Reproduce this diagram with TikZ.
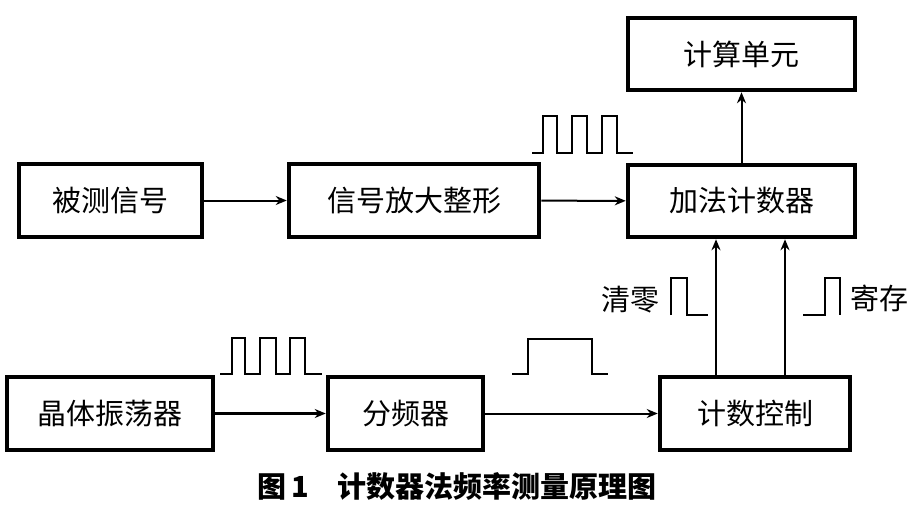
\documentclass[tikz,border=0pt]{standalone}
\usepackage{fontspec}
\setmainfont{Noto Sans CJK SC}
\usetikzlibrary{arrows.meta}

\begin{document}
\begin{tikzpicture}[
  x=1pt, y=-1pt,
  font=\fontsize{29}{32}\selectfont,
%  -{Stealth[length = 2.5pt]},
  MyBox/.style={draw, line width=4.5pt, minimum height=73, inner sep=0pt},
  MyArrow/.style={-{Stealth[length=11pt, width=9pt]}, line width=2pt},
  MyPulse/.style={line width=2pt},
  ]
\useasboundingbox (0,0) rectangle (908,514);

\node [MyBox, minimum width=183] (bc) at (110.5,200.5) {被测信号};
\node [MyBox, minimum width=250] (amp) at (414,200.5) {信号放大整形};
\node [MyBox, minimum width=227, minimum height=72] (add) at (741.5,201) {加法计数器};
\node [MyBox, minimum width=227, minimum height=72] (calc) at (741.5,54) {计算单元};
\node [MyBox, minimum width=206] (osc) at (110,413.5) {晶体振荡器};
\node [MyBox, minimum width=155] (div) at (405.5,413.5) {分频器};
\node [MyBox, minimum width=190] (ctl) at (755,413.5) {计数控制};

\draw [MyArrow] (bc) -- (amp);
\draw [MyArrow] (amp) -- (add);
\draw [MyArrow] (add) -- (calc);
\draw [MyArrow, line width=3pt] (osc) -- (div);
\draw [MyArrow] (div) -- (ctl);
\draw [MyArrow] ([xshift=-39]ctl.north) -- ([xshift=-39]ctl.north |- add.south);
\draw [MyArrow] ([xshift=30]ctl.north) -- ([xshift=30]ctl.north |- add.south);

\node (clr) at (630,300) {清零};
\node (hold) at (879,298) {寄存};

% pulse trains
\draw [MyPulse] (532,153) -- (543,153) -- (543,116) -- (557,116) -- (557,153)
  -- (572,153) -- (572,116) -- (587,116) -- (587,153)
  -- (602,153) -- (602,116) -- (617,116) -- (617,153) -- (633,153);
\draw [MyPulse] (220,374) -- (232,374) -- (232,338) -- (245,338) -- (245,374)
  -- (260,374) -- (260,338) -- (276,338) -- (276,374)
  -- (290,374) -- (290,338) -- (305,338) -- (305,374) -- (322,374);
\draw [MyPulse] (512,374) -- (528,374) -- (528,339) -- (592,339) -- (592,374) -- (608,374);
\draw [MyPulse] (671,315) -- (671,278) -- (687,278) -- (687,315) -- (708,315);
\draw [MyPulse] (803,315) -- (825,315) -- (825,278) -- (840,278) -- (840,315);

\node [font=\fontsize{29}{32}\selectfont\bfseries] (cap) at (457,486)
  {图\,1\hspace{1em}计数器法频率测量原理图};
\end{tikzpicture}
\end{document}
